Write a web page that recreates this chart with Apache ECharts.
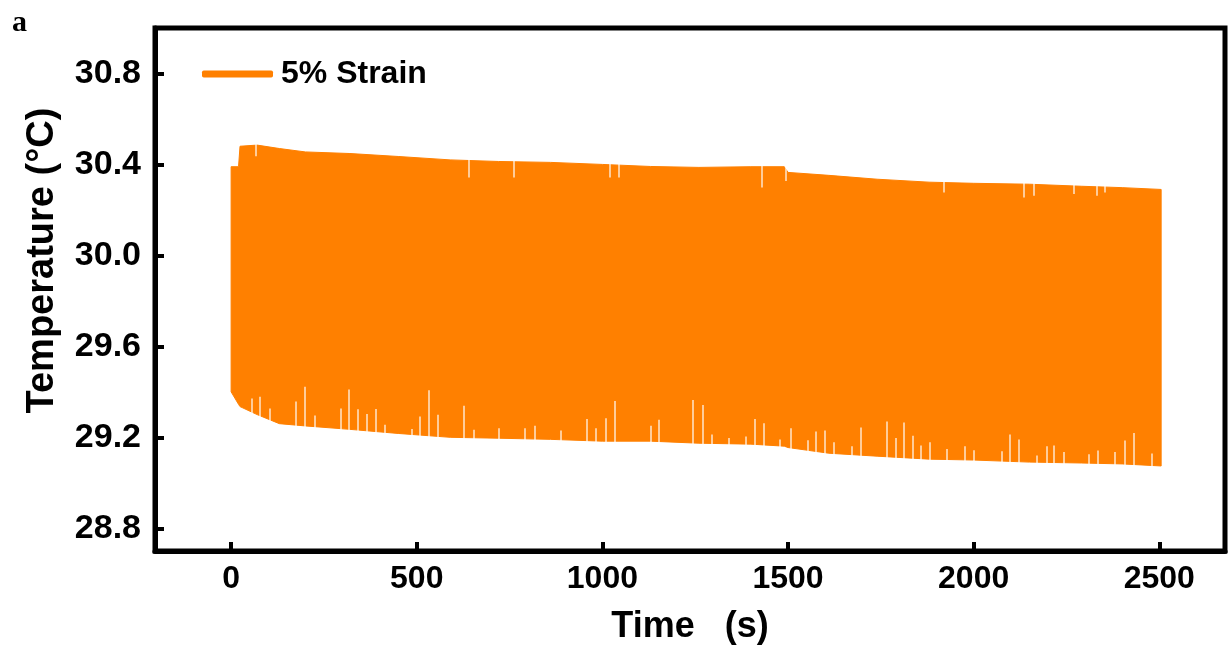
<!DOCTYPE html>
<html>
<head>
<meta charset="utf-8">
<script src="https://cdn.jsdelivr.net/npm/echarts@6/dist/echarts.min.js"></script>
<style>
  html, body { margin: 0; padding: 0; background: #fff; }
  #chart { width: 1229px; height: 650px; }
</style>
</head>
<body>
<div id="chart"></div>
<script>
// envelope of the oscillating signal
const envTimes = [0, 20, 24, 70, 130, 200, 320, 450, 590, 720, 860, 1000, 1130, 1260, 1400, 1490, 1500, 1610, 1740, 1880, 2000, 2150, 2290, 2400, 2505];
const upperTemp = [30.39, 30.39, 30.48, 30.485, 30.47, 30.455, 30.448, 30.435, 30.42, 30.413, 30.409, 30.40, 30.391, 30.387, 30.39, 30.39, 30.365, 30.352, 30.335, 30.322, 30.317, 30.313, 30.304, 30.298, 30.29];
const lowerTemp = [29.40, 29.345, 29.335, 29.30, 29.26, 29.25, 29.235, 29.217, 29.20, 29.196, 29.191, 29.183, 29.183, 29.174, 29.17, 29.161, 29.155, 29.13, 29.117, 29.104, 29.10, 29.091, 29.087, 29.083, 29.074];

// thin gaps rising from the bottom edge (time, top of gap)
const lowGapTimes = [56, 78, 105, 175, 197, 224, 294, 318, 341, 366, 390, 413, 487, 509, 533, 557, 626, 653, 720, 792, 819, 888, 958, 983, 1008, 1032, 1129, 1151, 1244, 1271, 1295, 1340, 1387, 1410, 1434, 1479, 1508, 1554, 1576, 1600, 1623, 1672, 1697, 1765, 1789, 1811, 1835, 1858, 1883, 1928, 1977, 2000, 2076, 2097, 2121, 2169, 2196, 2217, 2242, 2310, 2334, 2381, 2408, 2431, 2480];
const lowGapTops = [29.371, 29.378, 29.327, 29.357, 29.422, 29.296, 29.327, 29.41, 29.323, 29.303, 29.325, 29.255, 29.236, 29.291, 29.407, 29.299, 29.339, 29.233, 29.24, 29.24, 29.251, 29.23, 29.28, 29.24, 29.284, 29.36, 29.251, 29.277, 29.364, 29.342, 29.212, 29.197, 29.204, 29.28, 29.262, 29.19, 29.24, 29.187, 29.226, 29.23, 29.178, 29.161, 29.243, 29.27, 29.197, 29.265, 29.207, 29.164, 29.178, 29.149, 29.161, 29.143, 29.139, 29.212, 29.19, 29.12, 29.161, 29.164, 29.135, 29.125, 29.142, 29.135, 29.186, 29.219, 29.129];

// notches dropping from the top edge (time, bottom of notch)
const highGapTimes = [67, 639, 761, 1021, 1043, 1430, 1495, 1919, 2134, 2161, 2269, 2332, 2354];
const highGapBottoms = [30.436, 30.342, 30.342, 30.342, 30.343, 30.299, 30.327, 30.277, 30.255, 30.262, 30.27, 30.262, 30.277];

const xTicks = [0, 500, 1000, 1500, 2000, 2500];
const yTicks = [28.8, 29.2, 29.6, 30.0, 30.4, 30.8];

const ORANGE = '#FF8000';
const FONT = '"Liberation Sans", Arial, sans-serif';

const chart = echarts.init(document.getElementById('chart'));

const gapLines = lowGapTimes.map((t, i) => [{ coord: [t, 29.0] }, { coord: [t, lowGapTops[i]] }])
  .concat(highGapTimes.map((t, i) => [{ coord: [t, 30.7] }, { coord: [t, highGapBottoms[i]] }]));

// filled band between the two envelopes
function renderBand(params, api) {
  const top = envTimes.map((t, i) => api.coord([t, upperTemp[i]]));
  const bottom = envTimes.map((t, i) => api.coord([t, lowerTemp[i]])).reverse();
  return {
    type: 'polygon',
    shape: { points: top.concat(bottom) },
    style: { fill: ORANGE, stroke: ORANGE, lineWidth: 1 }
  };
}

chart.setOption({
  animation: false,
  backgroundColor: '#fff',
  grid: {
    left: 155, right: 4, top: 28, bottom: 94,
    show: true, borderColor: '#000', borderWidth: 5
  },
  legend: {
    data: ['5% Strain'],
    left: 197, top: 53,
    icon: 'roundRect',
    itemWidth: 71, itemHeight: 7,
    itemStyle: { color: ORANGE },
    textStyle: { fontFamily: FONT, fontWeight: 'bold', fontSize: 32, color: '#000', padding: [0, 0, 0, 3] }
  },
  graphic: [{
    type: 'text', left: 12, top: 8,
    style: { text: 'a', font: 'bold 30px "Liberation Serif", "Times New Roman", serif', fill: '#000' }
  }],
  xAxis: {
    type: 'value', min: -205, max: 2677,
    name: 'Time   (s)', nameLocation: 'middle', nameGap: 58,
    nameTextStyle: { fontFamily: FONT, fontWeight: 'bold', fontSize: 36, color: '#000' },
    splitLine: { show: false },
    axisLine: { lineStyle: { color: '#000', width: 5 } },
    axisTick: { inside: true, length: 9, lineStyle: { width: 4, color: '#000' }, customValues: xTicks },
    axisLabel: {
      customValues: xTicks, margin: 12, fontFamily: FONT, fontWeight: 'bold', fontSize: 32, color: '#000',
      formatter: v => String(v)
    }
  },
  yAxis: {
    type: 'value', min: 28.7, max: 31.0,
    name: 'Temperature (°C)', nameLocation: 'middle', nameGap: 93,
    nameTextStyle: { fontFamily: FONT, fontWeight: 'bold', fontSize: 38, color: '#000', padding: [0, 0, 0, 58] },
    splitLine: { show: false },
    axisLine: { onZero: false, lineStyle: { color: '#000', width: 5 } },
    axisTick: { inside: true, length: 9, lineStyle: { width: 4, color: '#000' }, customValues: yTicks },
    axisLabel: {
      customValues: yTicks, margin: 14, fontFamily: FONT, fontWeight: 'bold', fontSize: 34, color: '#000',
      formatter: v => v.toFixed(1)
    }
  },
  series: [
    {
      name: '5% Strain', type: 'custom', silent: true,
      itemStyle: { color: ORANGE },
      data: [[envTimes[0], upperTemp[0]]],
      renderItem: renderBand
    },
    {
      name: 'gaps', type: 'scatter', data: [], silent: true,
      markLine: {
        silent: true, symbol: 'none', animation: false,
        label: { show: false },
        lineStyle: { color: '#fff', width: 1.5, type: 'solid', opacity: 0.8 },
        data: gapLines
      }
    }
  ]
});
</script>
</body>
</html>
